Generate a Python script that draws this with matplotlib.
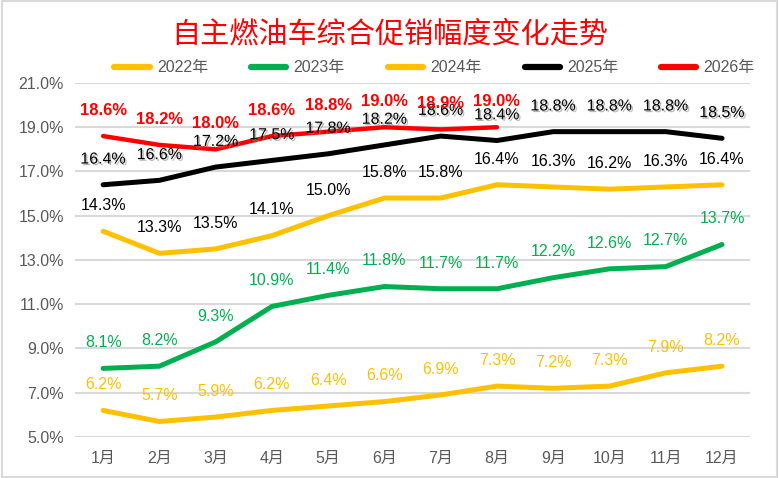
import matplotlib.pyplot as plt
import matplotlib.patheffects as pe
from matplotlib.patches import Rectangle

plt.rcParams['font.family'] = ['Liberation Sans', 'Noto Sans CJK SC', 'DejaVu Sans']

months = ["1月", "2月", "3月", "4月", "5月", "6月", "7月", "8月", "9月", "10月", "11月", "12月"]
y2022 = [14.3, 13.3, 13.5, 14.1, 15.0, 15.8, 15.8, 16.4, 16.3, 16.2, 16.3, 16.4]
y2023 = [8.1, 8.2, 9.3, 10.9, 11.4, 11.8, 11.7, 11.7, 12.2, 12.6, 12.7, 13.7]
y2024 = [6.2, 5.7, 5.9, 6.2, 6.4, 6.6, 6.9, 7.3, 7.2, 7.3, 7.9, 8.2]
y2025 = [16.4, 16.6, 17.2, 17.5, 17.8, 18.2, 18.6, 18.4, 18.8, 18.8, 18.8, 18.5]
y2026 = [18.6, 18.2, 18.0, 18.6, 18.8, 19.0, 18.9, 19.0]
yticks = [5.0, 7.0, 9.0, 11.0, 13.0, 15.0, 17.0, 19.0, 21.0]

fig = plt.figure(figsize=(7.79, 4.78), dpi=100)
ax = fig.add_axes([0.0963, 0.0858, 0.8667, 0.7406])

x = list(range(12))
yellow = "#FFC000"
green = "#00B050"

# 每条线: 数据, 线色, 线宽, 标签色, 是否加粗, 是否阴影
series = [
    ("2022年", y2022, yellow, 3.6, "#000000", False, False),
    ("2023年", y2023, green, 3.6, green, False, False),
    ("2024年", y2024, yellow, 3.6, yellow, False, False),
    ("2025年", y2025, "#000000", 3.6, "#000000", False, True),
    ("2026年", y2026, "#FF0000", 3.2, "#FF0000", True, False),
]

for name, vals, col, lw, lcol, bold, shadow in series:
    xs = x[:len(vals)]
    ax.plot(xs, vals, color=col, lw=lw, solid_joinstyle="round",
            solid_capstyle="round", label=name)
    for xi, v in zip(xs, vals):
        t = ax.annotate(f"{v:.1f}%", (xi, v), xytext=(0, 18.5),
                        textcoords="offset points", ha="center", va="center",
                        fontsize=11.5 if not bold else 12, color=lcol,
                        fontweight="bold" if bold else "normal")
        if shadow:
            t.set_path_effects([pe.withSimplePatchShadow(offset=(1.2, -1.2),
                                                         shadow_rgbFace="#888888",
                                                         alpha=0.6)])

ax.set_xlim(-0.5, 11.5)
ax.set_ylim(5.0, 21.0)
ax.set_yticks(yticks)
ax.set_yticklabels([f"{v:.1f}%" for v in yticks])
ax.set_xticks(x)
ax.set_xticklabels(months)
ax.tick_params(axis="both", length=0, colors="#595959", labelsize=11.5)
ax.tick_params(axis="x", pad=10)
ax.tick_params(axis="y", pad=8)
ax.grid(axis="y", color="#D9D9D9", lw=1.5)
ax.set_axisbelow(True)
for s in ax.spines.values():
    s.set_visible(False)

fig.text(0.5, 0.927, "自主燃油车综合促销幅度变化走势", ha="center", va="center",
         fontsize=21, color="#FF0000", family=["Noto Sans CJK SC"])

leg = fig.legend(loc="center", bbox_to_anchor=(0.558, 0.858), ncol=5,
                 frameon=False, fontsize=11.5, handlelength=2.2,
                 columnspacing=2.7, handletextpad=0.45)
for txt in leg.get_texts():
    txt.set_color("#595959")
for ln in leg.get_lines():
    ln.set_linewidth(4.5)

fig.patches.append(Rectangle((0.002, 0.003), 0.996, 0.994, transform=fig.transFigure,
                             fill=False, edgecolor="#D9D9D9", lw=1.5))

fig.savefig("out.png", dpi=100)
